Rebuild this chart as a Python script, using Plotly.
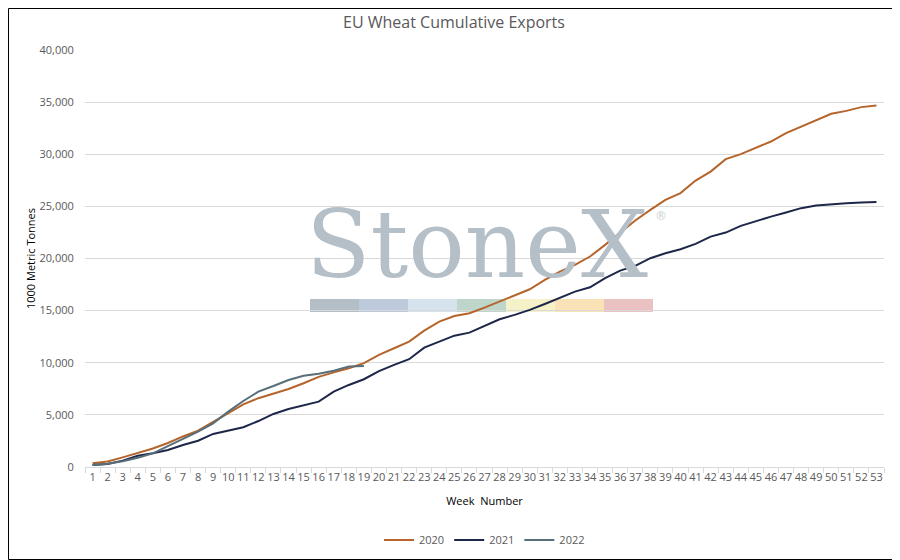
import plotly.graph_objects as go

weeks = list(range(1, 54))

exports_2020 = [350, 520, 920, 1350, 1780, 2300, 2930, 3480, 4330, 5100,
                6000, 6600, 7050, 7480, 8030, 8650, 9080, 9480, 9960, 10750,
                11390, 12030, 13080, 13950, 14490, 14750, 15290, 15870, 16510, 17050,
                17950, 18740, 19390, 20190, 21310, 22490, 23650, 24660, 25620, 26270,
                27480, 28340, 29530, 30010, 30590, 31220, 32020, 32660, 33240, 33880,
                34160, 34520, 34680]

exports_2021 = [200, 290, 610, 1080, 1310, 1630, 2110, 2520, 3170, 3480,
                3810, 4410, 5090, 5570, 5920, 6270, 7230, 7870, 8420, 9200,
                9790, 10340, 11450, 12030, 12600, 12890, 13560, 14170, 14590, 15070,
                15640, 16250, 16820, 17240, 18110, 18840, 19290, 20030, 20510, 20890,
                21400, 22100, 22490, 23130, 23610, 24020, 24410, 24830, 25080, 25210,
                25300, 25370, 25430]

weeks_2022 = list(range(1, 20))
exports_2022 = [200, 310, 560, 890, 1310, 2010, 2660, 3390, 4190, 5310,
                6330, 7230, 7770, 8350, 8760, 8950, 9240, 9630, 9690]

y_ticks = [0, 5000, 10000, 15000, 20000, 25000, 30000, 35000, 40000]
y_tick_labels = ["0", "5,000", "10,000", "15,000", "20,000", "25,000", "30,000", "35,000", "40,000"]

watermark_colors = ["#b3bec7", "#bccadb", "#d5e3ee", "#bed6c9", "#f5f1c9", "#fae2b7", "#eac2c2"]

fig = go.Figure()
fig.add_trace(go.Scatter(x=weeks, y=exports_2020, name="2020", mode="lines",
                         line=dict(color="#b5652b", width=2)))
fig.add_trace(go.Scatter(x=weeks, y=exports_2021, name="2021", mode="lines",
                         line=dict(color="#1e2749", width=2)))
fig.add_trace(go.Scatter(x=weeks_2022, y=exports_2022, name="2022", mode="lines",
                         line=dict(color="#586f7a", width=2)))

# page has an 8px body margin; the figure is sized to fill the rest of the window
OFF = 8
W, H = 900 - OFF, 560 - OFF
L, R, T, B = 85 - OFF, 16, 50 - OFF, 93
pw, ph = W - L - R, H - T - B


def px(xpage):
    return (xpage - OFF - L) / pw


def py(ypage):
    return (H - B - (ypage - OFF)) / ph


shapes = []
# outer border
shapes.append(dict(type="rect", xref="paper", yref="paper",
                   x0=(-L + 0.5) / pw, x1=1 + (R - 0.5) / pw,
                   y0=(-B + 0.5) / ph, y1=1 + (T - 0.5) / ph,
                   line=dict(color="#000000", width=1), fillcolor="rgba(0,0,0,0)",
                   layer="below"))
# watermark colour bars
bx0, bw = 310, 49
for i, c in enumerate(watermark_colors):
    shapes.append(dict(type="rect", xref="paper", yref="paper",
                       x0=px(bx0 + i * bw), x1=px(bx0 + (i + 1) * bw),
                       y0=py(312), y1=py(299),
                       line=dict(width=0), fillcolor=c, layer="below"))

annotations = [
    dict(text="StoneX", xref="paper", yref="paper",
         x=px(477), y=py(244), xanchor="center", yanchor="middle",
         showarrow=False, font=dict(family="DejaVu Serif", size=94, color="#b4bfc8")),
    dict(text="®", xref="paper", yref="paper",
         x=px(661), y=py(216), xanchor="center", yanchor="middle",
         showarrow=False, font=dict(family="DejaVu Sans", size=12, color="#c8d0d6")),
]

fig.update_layout(
    width=W, height=H,
    margin=dict(l=L, r=R, t=T, b=B, autoexpand=False),
    paper_bgcolor="white", plot_bgcolor="white",
    title=dict(text="EU Wheat Cumulative Exports", x=0.5, xanchor="center",
               y=1 - (22 - OFF) / H, yanchor="middle",
               font=dict(family="Open Sans", size=16, color="#595959")),
    font=dict(family="Open Sans", size=11, color="#595959"),
    showlegend=True,
    legend=dict(orientation="h", x=0.5, xanchor="center", y=py(540), yanchor="middle",
                font=dict(size=11, color="#595959"), itemwidth=30),
    shapes=shapes,
    annotations=annotations,
)

fig.update_xaxes(
    range=[0.5, 53.5], tickmode="array", tickvals=weeks, ticktext=[str(w) for w in weeks],
    showgrid=False, zeroline=False, showline=True, linecolor="#d9d9d9", linewidth=1,
    ticks="", tickfont=dict(family="Open Sans", size=11, color="#595959"),
    minor=dict(ticks="outside", ticklen=5, tickcolor="#d9d9d9", tick0=0.5, dtick=1, showgrid=False),
    title=dict(text="Week  Number", font=dict(family="Open Sans", size=11, color="#000000"), standoff=14),
    automargin=False, fixedrange=True,
)
fig.update_yaxes(
    range=[0, 40000], tickmode="array", tickvals=y_ticks, ticktext=y_tick_labels,
    showgrid=True, gridcolor="#d9d9d9", gridwidth=1, zeroline=False, showline=False,
    ticks="outside", ticklen=8, tickcolor="rgba(0,0,0,0)",
    tickfont=dict(family="Open Sans", size=11, color="#595959"),
    title=dict(text="1000 Metric Tonnes", font=dict(family="Open Sans", size=11, color="#000000"), standoff=1),
    automargin=False, fixedrange=True,
)

fig.write_html("out.html")
